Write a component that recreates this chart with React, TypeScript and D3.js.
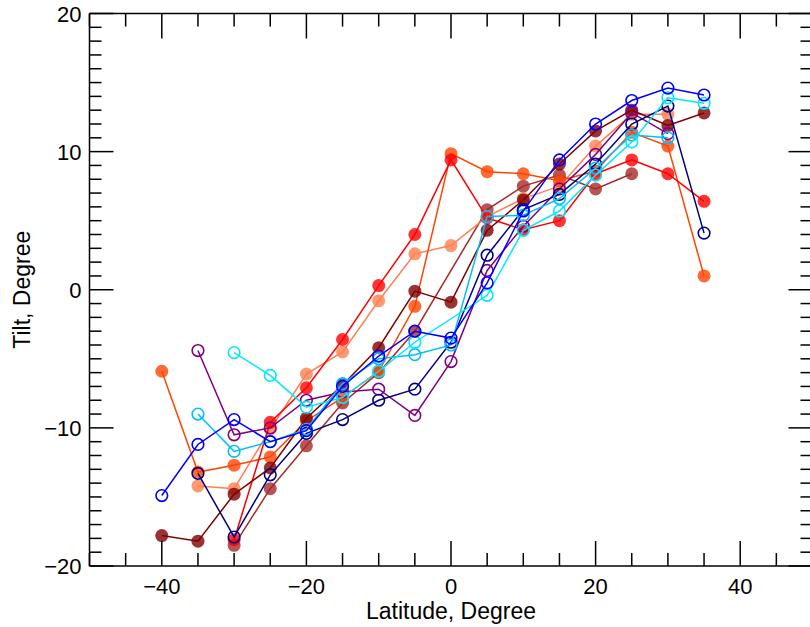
import React, { useEffect } from "react";
import * as d3 from "d3";

const lats = [-40, -35, -30, -25, -20, -15, -10, -5, 0, 5, 10, 15, 20, 25, 30, 35];

const redVals = [null, null, -18.1, -9.6, -7.1, -3.6, 0.3, 4.0, 9.4, 5.2, 4.35, 5.0, 8.4, 9.4, 8.4, 6.4];
const orangeVals = [-5.9, -13.2, -12.7, -12.1, -9.5, -7.8, -5.9, -1.2, 9.85, 8.55, 8.4, 7.9, 8.6, 11.4, 10.4, 1.0];
const salmonVals = [null, -14.2, -14.4, -10.1, -6.1, -4.5, -0.8, 2.6, 3.2, 5.3, 6.6, 7.5, 10.4, 12.7, 12.7, null];
const maroonVals = [-17.8, -18.2, -14.8, -12.9, -9.3, -6.9, -4.2, -0.1, -0.9, 4.3, 6.5, 9.1, 11.5, 13.0, 11.9, 12.8];
const brownVals = [null, null, -18.5, -14.4, -11.3, -8.2, -6.0, -3.0, null, 5.8, 7.5, 8.3, 7.3, 8.4, null, null];

const blueVals = [-14.9, -11.2, -9.4, -11.0, -10.2, -7.0, -4.8, -3.0, -3.5, 0.5, 5.7, 9.4, 12.0, 13.7, 14.6, 14.1];
const navyVals = [null, -13.3, -17.9, -13.4, -10.4, -9.4, -8.0, -7.2, -3.8, 2.5, 5.8, 6.9, 9.1, 12.0, 13.3, 4.1];
const purpleVals = [null, -4.4, -10.5, -10.0, -8.0, -7.4, -7.2, -9.1, -5.2, 1.4, 4.6, 7.3, 9.8, 12.8, 11.3, null];
const cyanVals = [null, null, -4.55, -6.2, -8.5, -7.8, -5.9, -3.8, null, -0.4, 4.3, 5.7, 8.3, 10.7, 13.9, 13.5];
const skyVals = [null, -9.0, -11.7, -11.0, -10.1, -6.8, -5.0, -4.7, -4.0, 5.3, 5.4, 6.6, 8.8, 11.2, 11.0, null];

const xMajor = [-40, -20, 0, 20, 40];
const yMajor = [-20, -10, 0, 10, 20];

type Series = { name: string; vals: (number | null)[]; color: string; filled: boolean };

const series: Series[] = [
  { name: "brown", vals: brownVals, color: "#A52A2A", filled: true },
  { name: "salmon", vals: salmonVals, color: "#FF7F50", filled: true },
  { name: "orange", vals: orangeVals, color: "#FF4500", filled: true },
  { name: "red", vals: redVals, color: "#FF0000", filled: true },
  { name: "maroon", vals: maroonVals, color: "#800000", filled: true },
  { name: "purple", vals: purpleVals, color: "#800080", filled: false },
  { name: "navy", vals: navyVals, color: "#000080", filled: false },
  { name: "sky", vals: skyVals, color: "#00BFFF", filled: false },
  { name: "cyan", vals: cyanVals, color: "#00E8FF", filled: false },
  { name: "blue", vals: blueVals, color: "#0000FF", filled: false },
];

const W = 810;
const H = 627;
const L = 89.5;
const T = 13.5;
const R = 812.5;
const B = 566;

export default function App() {
  useEffect(() => {
    document.body.style.margin = "0";
  }, []);

  const x = d3.scaleLinear().domain([-50, 50]).range([L, R]);
  const y = d3.scaleLinear().domain([-20, 20]).range([B, T]);

  const line = d3
    .line<[number, number]>()
    .x((d) => x(d[0]))
    .y((d) => y(d[1]));

  const xMinor = d3.range(-50, 51, 5).filter((v) => !xMajor.includes(v));
  const yMinor = d3.range(-20, 21, 1).filter((v) => !yMajor.includes(v));

  const font = "'Liberation Sans', Arial, sans-serif";
  const axisColor = "#000";

  return (
    <svg width={W} height={H} style={{ position: "absolute", left: 0, top: 0, display: "block" }}>
      <rect x={0} y={0} width={W} height={H} fill="#fff" />
      {series.map((s) => {
        const pts: [number, number][] = lats
          .map((la, i) => [la, s.vals[i]] as [number, number | null])
          .filter((p) => p[1] !== null) as [number, number][];
        return (
          <g key={s.name}>
            <path d={line(pts) || ""} fill="none" stroke={s.color} strokeWidth={1.5} />
            {pts.map((p, i) =>
              s.filled ? (
                <circle key={i} cx={x(p[0])} cy={y(p[1])} r={6.5} fill={s.color} fillOpacity={0.8} />
              ) : (
                <circle key={i} cx={x(p[0])} cy={y(p[1])} r={5.8} fill="none" stroke={s.color} strokeWidth={1.6} />
              )
            )}
          </g>
        );
      })}
      <g stroke={axisColor} strokeWidth={1.5} fill="none">
        <line x1={L} y1={B} x2={R} y2={B} />
        <line x1={L} y1={T} x2={R} y2={T} />
        <line x1={L} y1={T} x2={L} y2={B} />
        <line x1={R} y1={T} x2={R} y2={B} />
        {xMajor.map((v) => (
          <g key={"xM" + v}>
            <line x1={x(v)} x2={x(v)} y1={B} y2={B - 25} />
            <line x1={x(v)} x2={x(v)} y1={T} y2={T + 25} />
          </g>
        ))}
        {xMinor.map((v) => (
          <g key={"xm" + v}>
            <line x1={x(v)} x2={x(v)} y1={B} y2={B - 13} />
            <line x1={x(v)} x2={x(v)} y1={T} y2={T + 13} />
          </g>
        ))}
        {yMajor.map((v) => (
          <g key={"yM" + v}>
            <line x1={L} x2={L + 24} y1={y(v)} y2={y(v)} />
            <line x1={R} x2={R - 24} y1={y(v)} y2={y(v)} />
          </g>
        ))}
        {yMinor.map((v) => (
          <g key={"ym" + v}>
            <line x1={L} x2={L + 12} y1={y(v)} y2={y(v)} />
            <line x1={R} x2={R - 12} y1={y(v)} y2={y(v)} />
          </g>
        ))}
      </g>
      <g fontFamily={font} fontSize={22} fill="#000">
        {xMajor.map((v) => (
          <text key={"xl" + v} x={x(v)} y={B + 28} textAnchor="middle">
            {v < 0 ? "\u2212" + Math.abs(v) : String(v)}
          </text>
        ))}
        {yMajor.map((v) => (
          <text key={"yl" + v} x={L - 8} y={y(v) + 8} textAnchor="end">
            {v < 0 ? "\u2212" + Math.abs(v) : String(v)}
          </text>
        ))}
      </g>
      <text x={x(0)} y={619} textAnchor="middle" fontFamily={font} fontSize={23} fill="#000">
        Latitude, Degree
      </text>
      <text
        transform={`translate(30, ${y(0)}) rotate(-90)`}
        textAnchor="middle"
        fontFamily={font}
        fontSize={23}
        fill="#000"
      >
        Tilt, Degree
      </text>
    </svg>
  );
}
